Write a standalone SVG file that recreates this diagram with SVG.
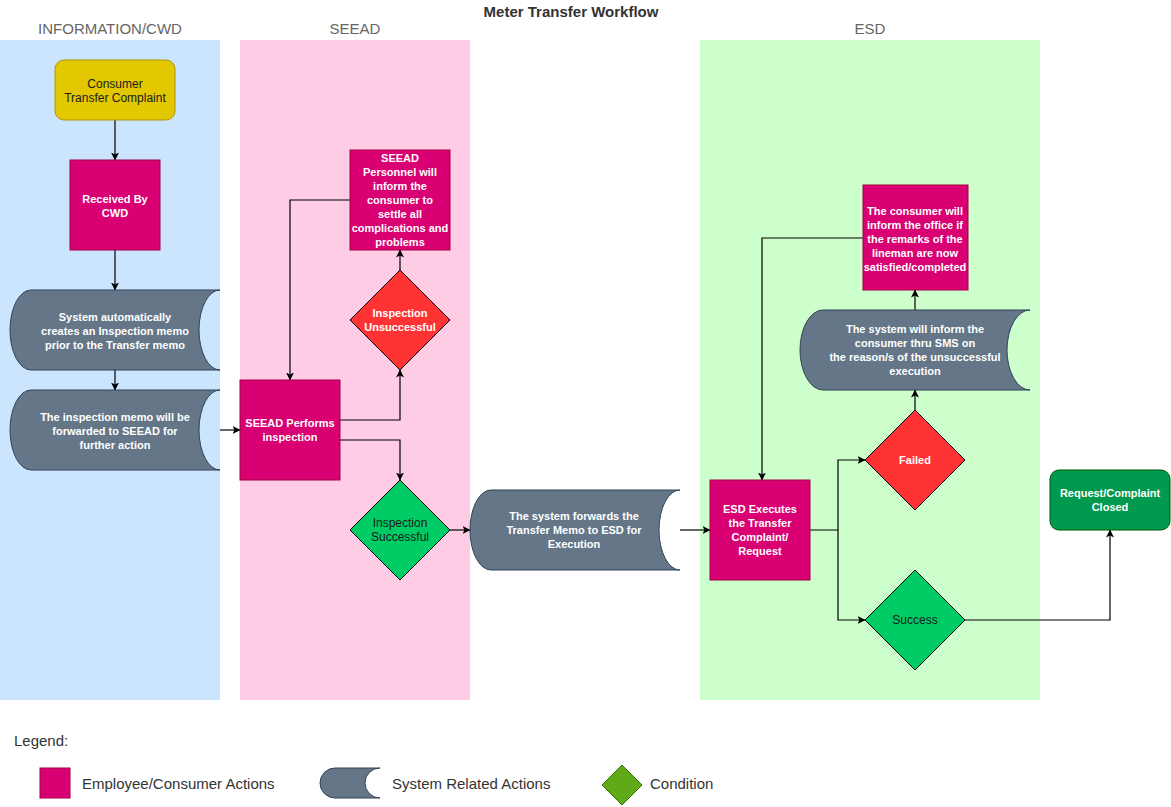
<svg xmlns="http://www.w3.org/2000/svg" width="1171" height="807" viewBox="0 0 1171 807">
<style>
text{font-family:"Liberation Sans",Arial,sans-serif;text-anchor:middle}
.lane-label{font-size:15px;fill:#666666}
.title{font-size:15px;font-weight:bold;fill:#333333}
.w{font-size:11px;font-weight:bold;fill:#ffffff}
.d{font-size:12px;fill:#1a1a1a}
.emp{fill:#d80073;stroke:#a50040;stroke-width:1}
.sys{fill:#647687;stroke:#314354;stroke-width:1}
.red{fill:#ff3333;stroke:#000000;stroke-width:1}
.grn{fill:#00cc66;stroke:#000000;stroke-width:1}
.conn{fill:none;stroke:#000000;stroke-width:1.2;marker-end:url(#arr)}
.leg{font-size:15px;fill:#333333;text-anchor:start}
</style>
<defs>
<marker id="arr" viewBox="0 0 8 8" refX="7.5" refY="4" markerWidth="8" markerHeight="8" markerUnits="userSpaceOnUse" orient="auto">
<path d="M0,0 L8,4 L0,8 L2,4 Z" fill="#000000"/>
</marker>
</defs>
<rect width="1171" height="807" fill="#ffffff"/>
<g id="lanes">
<rect x="0" y="40" width="220" height="660" fill="#cce5ff"/>
<rect x="240" y="40" width="230" height="660" fill="#ffcce6"/>
<rect x="700" y="40" width="340" height="660" fill="#ccffcc"/>
<text class="lane-label" x="110" y="34">INFORMATION/CWD</text>
<text class="lane-label" x="355" y="34">SEEAD</text>
<text class="lane-label" x="870" y="34">ESD</text>
<text class="title" x="571" y="17">Meter Transfer Workflow</text>
</g>
<g id="connectors">
<path class="conn" d="M115,120 V160"/>
<path class="conn" d="M115,250 V290"/>
<path class="conn" d="M115,370 V390"/>
<path class="conn" d="M220,430 H240"/>
<path class="conn" d="M340,420 H400 V370"/>
<path class="conn" d="M400,270 V250"/>
<path class="conn" d="M350,200 H290 V380"/>
<path class="conn" d="M340,440 H400 V480"/>
<path class="conn" d="M450,530 H470"/>
<path class="conn" d="M680,530 H710"/>
<path class="conn" d="M810,530 H838 V460 H865"/>
<path class="conn" d="M838,530 V620 H865"/>
<path class="conn" d="M915,410 V390"/>
<path class="conn" d="M915,310 V290"/>
<path class="conn" d="M863,238 H762 V480"/>
<path class="conn" d="M965,620 H1110 V530"/>
</g>
<g id="consumer-complaint">
<rect x="55" y="60" width="120" height="60" rx="9" fill="#e3c800" stroke="#b09500"/>
<text class="d" x="115" y="88">Consumer</text>
<text class="d" x="115" y="102">Transfer Complaint</text>
</g>
<g id="received-cwd">
<rect class="emp" x="70" y="160" width="90" height="90"/>
<text class="w" x="115" y="203">Received By</text>
<text class="w" x="115" y="217">CWD</text>
</g>
<g id="system-creates-memo">
<path class="sys" d="M31,290 H220 A21,40 0 0 0 220,370 H31 A21,40 0 0 1 31,290 Z"/>
<text class="w" x="115" y="321">System automatically</text>
<text class="w" x="115" y="335">creates an Inspection memo</text>
<text class="w" x="115" y="349">prior to the Transfer memo</text>
</g>
<g id="memo-forwarded">
<path class="sys" d="M31,390 H220 A21,40 0 0 0 220,470 H31 A21,40 0 0 1 31,390 Z"/>
<text class="w" x="115" y="421">The inspection memo will be</text>
<text class="w" x="115" y="435">forwarded to SEEAD for</text>
<text class="w" x="115" y="449">further action</text>
</g>
<g id="seead-performs">
<rect class="emp" x="240" y="380" width="100" height="100"/>
<text class="w" x="290" y="427">SEEAD Performs</text>
<text class="w" x="290" y="441">inspection</text>
</g>
<g id="seead-personnel">
<rect class="emp" x="350" y="150" width="100" height="100"/>
<text class="w" x="400" y="162">SEEAD</text>
<text class="w" x="400" y="176">Personnel will</text>
<text class="w" x="400" y="190">inform the</text>
<text class="w" x="400" y="204">consumer to</text>
<text class="w" x="400" y="218">settle all</text>
<text class="w" x="400" y="232">complications and</text>
<text class="w" x="400" y="246">problems</text>
</g>
<g id="inspection-unsuccessful">
<polygon class="red" points="400,270 450,320 400,370 350,320"/>
<text class="w" x="400" y="317">Inspection</text>
<text class="w" x="400" y="331">Unsuccessful</text>
</g>
<g id="inspection-successful">
<polygon class="grn" points="400,480 450,530 400,580 350,530"/>
<text class="d" x="400" y="527">Inspection</text>
<text class="d" x="400" y="541">Successful</text>
</g>
<g id="system-forwards">
<path class="sys" d="M491,490 H680 A21,40 0 0 0 680,570 H491 A21,40 0 0 1 491,490 Z"/>
<text class="w" x="574" y="520">The system forwards the</text>
<text class="w" x="574" y="534">Transfer Memo to ESD for</text>
<text class="w" x="574" y="548">Execution</text>
</g>
<g id="esd-executes">
<rect class="emp" x="710" y="480" width="100" height="100"/>
<text class="w" x="760" y="513">ESD Executes</text>
<text class="w" x="760" y="527">the Transfer</text>
<text class="w" x="760" y="541">Complaint/</text>
<text class="w" x="760" y="555">Request</text>
</g>
<g id="failed">
<polygon class="red" points="915,410 965,460 915,510 865,460"/>
<text class="w" x="915" y="464">Failed</text>
</g>
<g id="success">
<polygon class="grn" points="915,570 965,620 915,670 865,620"/>
<text class="d" x="915" y="624">Success</text>
</g>
<g id="system-sms">
<path class="sys" d="M823,310 H1030 A23,40 0 0 0 1030,390 H823 A23,40 0 0 1 823,310 Z"/>
<text class="w" x="915" y="333">The system will inform the</text>
<text class="w" x="915" y="347">consumer thru SMS on</text>
<text class="w" x="915" y="361">the reason/s of the unsuccessful</text>
<text class="w" x="915" y="375">execution</text>
</g>
<g id="consumer-informs">
<rect class="emp" x="863" y="185" width="105" height="105"/>
<text class="w" x="915" y="215">The consumer will</text>
<text class="w" x="915" y="229">inform the office if</text>
<text class="w" x="915" y="243">the remarks of the</text>
<text class="w" x="915" y="257">lineman are now</text>
<text class="w" x="915" y="271">satisfied/completed</text>
</g>
<g id="closed">
<rect x="1050" y="470" width="120" height="60" rx="9" fill="#00994d" stroke="#005700"/>
<text class="w" x="1110" y="497">Request/Complaint</text>
<text class="w" x="1110" y="511">Closed</text>
</g>
<g id="legend">
<text class="leg" x="14" y="746">Legend:</text>
<rect class="emp" x="40" y="768" width="30" height="30"/>
<text class="leg" x="82" y="789">Employee/Consumer Actions</text>
<path class="sys" d="M335,768 H380 A15,15 0 0 0 380,798 H335 A15,15 0 0 1 335,768 Z"/>
<text class="leg" x="392" y="789">System Related Actions</text>
<polygon points="622,765 642,785 622,805 602,785" fill="#60a917" stroke="#2d7600"/>
<text class="leg" x="650" y="789">Condition</text>
</g>
</svg>
